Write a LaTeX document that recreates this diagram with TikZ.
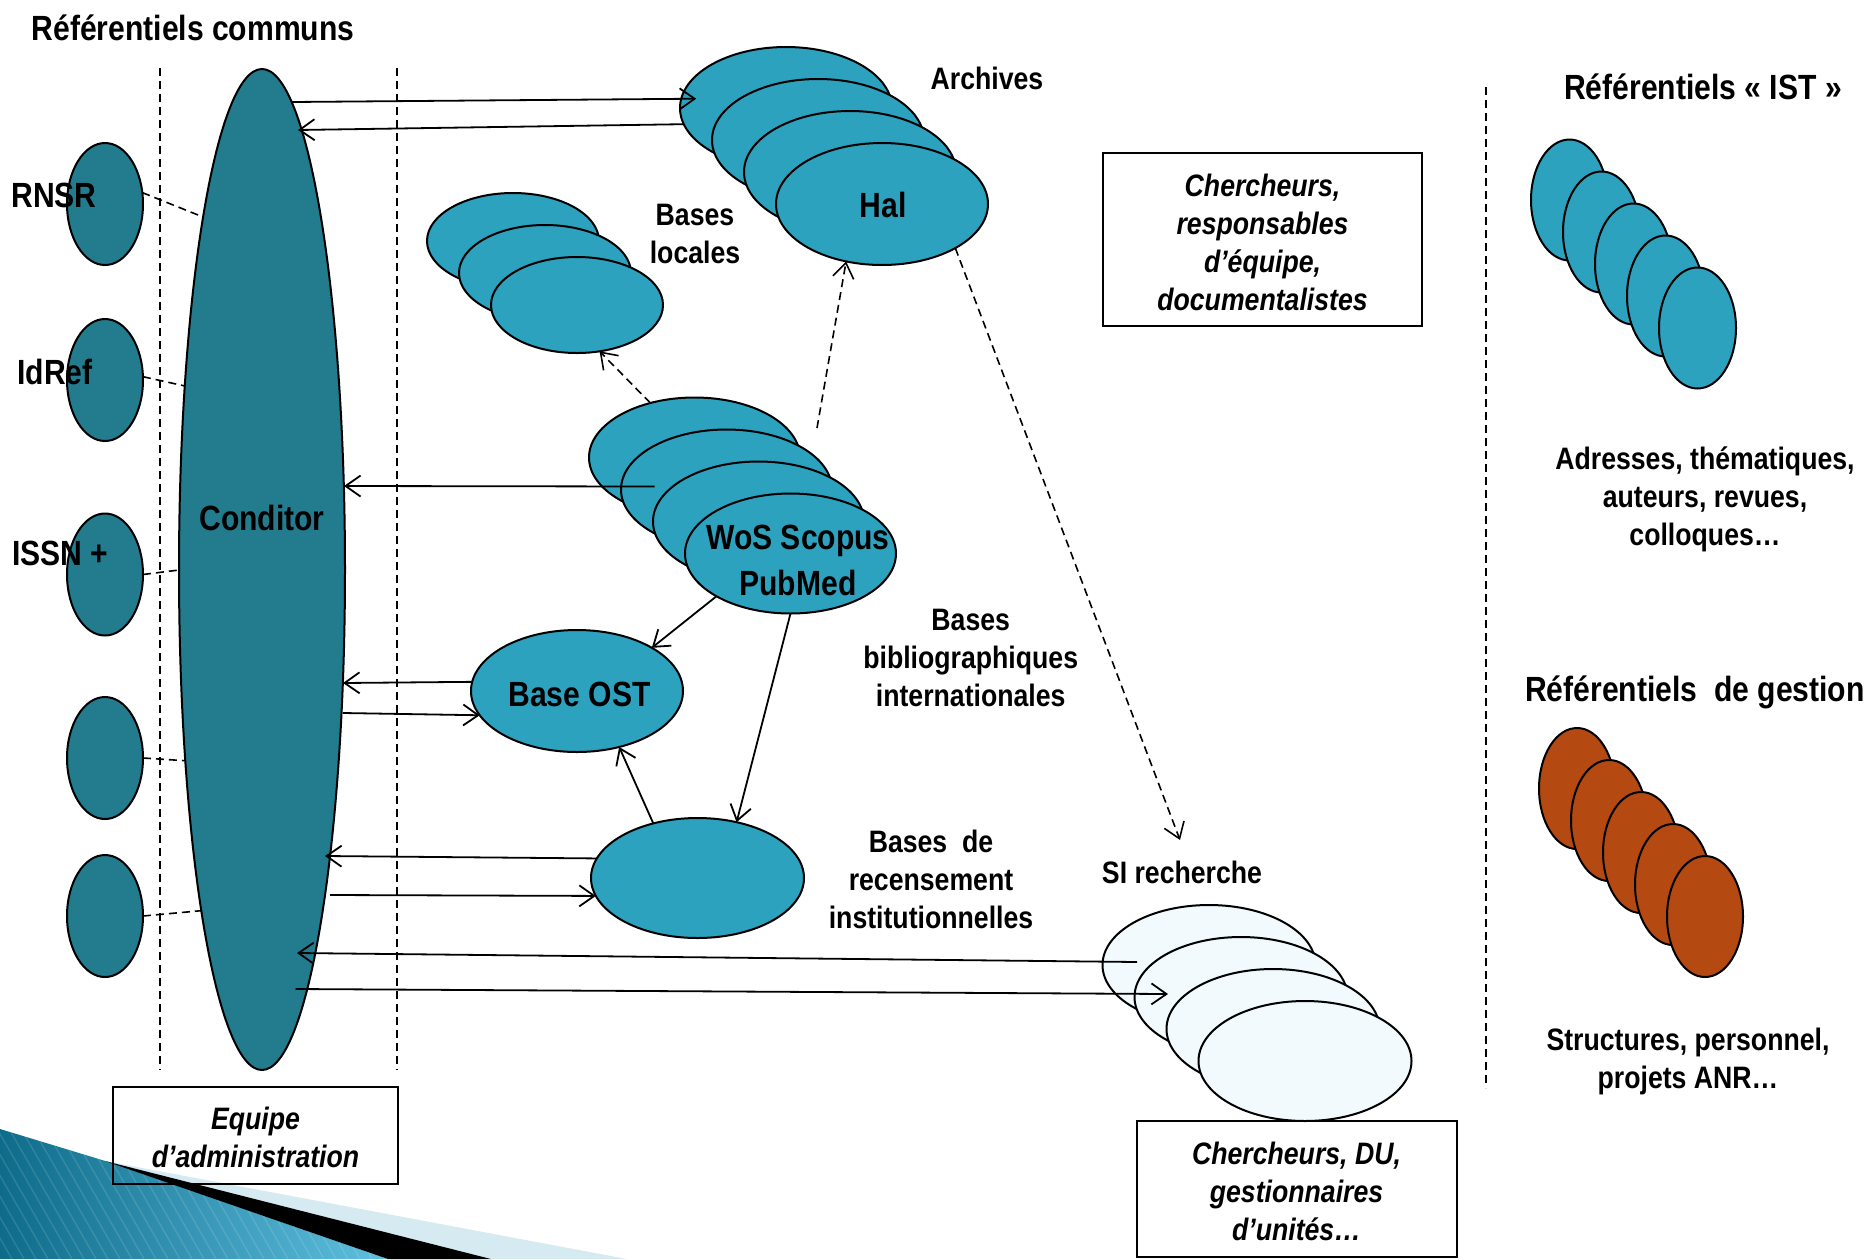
\documentclass[tikz,border=0pt]{standalone}
\usepackage{fontspec}
\setmainfont{Liberation Sans}[FakeStretch=0.86]
\usetikzlibrary{arrows.meta,shapes.geometric,calc}
\definecolor{condcol}{RGB}{35,123,142}
\definecolor{bluecol}{RGB}{45,162,191}
\definecolor{orangecol}{RGB}{180,74,18}
\definecolor{sicol}{RGB}{242,250,253}
\definecolor{decodark}{RGB}{14,108,138}
\definecolor{decolight}{RGB}{98,194,226}
\definecolor{decopale}{RGB}{214,234,242}
\newcommand\fbig{\fontsize{35pt}{46pt}\selectfont\bfseries}
\newcommand\fsmall{\fontsize{31pt}{38pt}\selectfont\bfseries}
\newcommand\topstrut{\rule{0pt}{38.6pt}}
\begin{document}
\begin{tikzpicture}[x=1pt,y=-1pt,
  every node/.style={inner sep=0pt,outer sep=0pt},
  oval/.style 2 args={ellipse,draw=black,line width=2pt,inner sep=0pt,minimum width=#1,minimum height=#2},
  bigt/.style={font=\fbig},
  smt/.style={font=\fsmall},
  boxn/.style={draw=black,line width=2pt,align=center,font=\fsmall\itshape},
  vdash/.style={line width=1.6pt,dash pattern=on 8pt off 5pt},
  dconn/.style={line width=1.6pt,dash pattern=on 8pt off 5pt},
  arr/.style={line width=1.8pt,-{Straight Barb[length=15pt,width=21pt,line width=1.8pt]}},
  darr/.style={line width=1.6pt,dash pattern=on 8pt off 5pt,-{Straight Barb[length=15pt,width=21pt,line width=1.6pt]}}]
\useasboundingbox (0,0) rectangle (1872,1259);

% bottom-left decoration
\begin{scope}
  \clip (0,1129) -- (112,1163) -- (388,1259) -- (0,1259) -- cycle;
  \shade[left color=decodark,right color=decolight] (0,1120) rectangle (400,1259);
  \foreach \k in {-200,-188,...,400}
    \draw[white,opacity=0.12,line width=1.4pt] (\k,1120) -- ({\k+80},1259);
\end{scope}
\fill[decopale] (105,1161) -- (627,1259) -- (491,1259) -- cycle;
\fill[black] (105,1161) -- (491,1259) -- (388,1259) -- cycle;

% separators
\draw[vdash] (160,68) -- (160,1070);
\draw[vdash] (397,68) -- (397,1070);
\draw[vdash] (1486,87) -- (1486,1088);

% Conditor and common referentials
\node[oval={166pt}{1001pt},fill=condcol] (cond) at (262,569.5) {};
\foreach \i/\y in {1/204,2/380,3/574.5,4/758,5/916}
  \node[oval={76pt}{122pt},fill=condcol] (r\i) at (105,\y) {};

% Archives stack
\foreach \i in {0,...,3}
  \node[oval={212pt}{122pt},fill=bluecol] (a\i) at ({786+32*\i},{108+32*\i}) {};
% Bases locales stack
\foreach \i in {0,...,2}
  \node[oval={172pt}{96pt},fill=bluecol] (l\i) at ({513+32*\i},{241+32*\i}) {};
% WoS stack
\foreach \i in {0,...,3}
  \node[oval={211pt}{120pt},fill=bluecol] (w\i) at ({694.5+32*\i},{457.5+32*\i}) {};
% Base OST
\node[oval={212pt}{122pt},fill=bluecol] (ost) at (577,691) {};
% Bases de recensement
\node[oval={213pt}{120pt},fill=bluecol] (rec) at (697.5,878) {};
% SI recherche stack
\foreach \i in {0,...,3}
  \node[oval={213pt}{120pt},fill=sicol] (s\i) at ({1209+32*\i},{965+32*\i}) {};
% IST stack
\foreach \i in {0,...,4}
  \node[oval={77pt}{121pt},fill=bluecol] (i\i) at ({1569.5+32*\i},{200+32*\i}) {};
% gestion stack
\foreach \i in {0,...,4}
  \node[oval={76pt}{121pt},fill=orangecol] (g\i) at ({1577+32*\i},{788.5+32*\i}) {};

% free ends
\coordinate (wtop) at (817,428);
\coordinate (sitip) at (1180,840);

% dashed links to Conditor
\draw[dconn] (r1.17) -- ($(cond.center)+(-59,-352.5)$);
\draw[dconn] (r2.5) -- ($(cond.center)+(-77,-183.5)$);
\draw[dconn] (r3.east) -- ($(cond.center)+(-83,0.5)$);
\draw[dconn] (r4.east) -- ($(cond.center)+(-77,191.2)$);
\draw[dconn] (r5.east) -- ($(cond.center)+(-61,341.2)$);

% arrows
\draw[arr,shorten >=-15pt] ($(cond.center)+(30,-467.5)$) -- (a0.175.1);
\draw[arr] (a0.189.5) -- ($(cond.center)+(36,-439.5)$);
\draw[arr] ([xshift=-72pt,yshift=3pt]w1.center) -- ($(cond.center)+(82,-83.5)$);
\draw[arr] (ost.175.6) -- ($(cond.center)+(81,113.5)$);
\draw[arr] ($(cond.center)+(81,143.5)$) -- (ost.194.5);
\draw[arr] (rec.169.3) -- ($(cond.center)+(63,286.5)$);
\draw[arr] ($(cond.center)+(68,325.5)$) -- (rec.190.7);
\draw[arr] ([xshift=-72pt,yshift=3pt]s0.center) -- ($(cond.center)+(35,383.5)$);
\draw[arr] ($(cond.center)+(33.5,419.5)$) -- ([xshift=-73pt,yshift=3pt]s1.center);
\draw[arr] (w3.210.5) -- (ost.30.4);
\draw[arr] (w3.south) -- (rec.55.6);
\draw[arr] (rec.129) -- (ost.307.8);
\draw[darr] (w0.129.6) -- (l2.296.5);
\draw[darr] (wtop) -- (a3.238.4);
\draw[darr] (a3.329.3) -- (sitip);

% texts
\node[bigt,anchor=base] (t1) at (193,40) {Référentiels communs};
\node[bigt,anchor=base] (lr1) at (54,207) {RNSR};
\node[bigt,anchor=base] (lr2) at (55,384) {IdRef};
\node[bigt,anchor=base] (lr3) at (60.5,565) {ISSN +};
\node[bigt,anchor=base] (lcond) at (262,530) {Conditor};
\node[smt,anchor=base] (larch) at (987,89) {Archives};
\node[bigt,anchor=base] (lhal) at (883,217) {Hal};
\node[smt,anchor=north,align=center] (lloc) at (695,198.4) {\strut Bases\\\strut locales};
\node[bigt,anchor=north,align=center] (lwos) at (798,517.4) {\strut WoS Scopus\\\strut PubMed};
\node[bigt,anchor=base] (lost) at (579.5,706.7) {Base OST};
\node[smt,anchor=north,align=center] (lbib) at (970.7,603.4) {\strut Bases\\\strut bibliographiques\\\strut internationales};
\node[smt,anchor=north,align=center] (lrec) at (931,825.4) {\strut Bases~ de\\\strut recensement\\\strut institutionnelles};
\node[smt,anchor=base] (lsi) at (1182,883) {SI recherche};
\node[bigt,anchor=base] (list) at (1703,99) {Référentiels « IST »};
\node[smt,anchor=north,align=center] (ladr) at (1705,442.4) {\strut Adresses, thématiques,\\\strut auteurs, revues,\\\strut colloques…};
\node[bigt,anchor=base] (lges) at (1695,701) {Référentiels~ de gestion};
\node[smt,anchor=north,align=center] (lstr) at (1688,1023.4) {\strut Structures, personnel,\\\strut projets ANR…};

% boxes
\node[boxn,minimum width=319pt,minimum height=173pt] (bx1) at (1262.5,239.5)
  {\topstrut Chercheurs,\\\strut responsables\\\strut d’équipe,\\\strut documentalistes};
\node[boxn,minimum width=285pt,minimum height=97pt] (bx2) at (255.5,1135)
  {\topstrut Equipe\\\strut d’administration};
\node[boxn,minimum width=320pt,minimum height=136pt] (bx3) at (1296.5,1189)
  {\topstrut Chercheurs, DU,\\\strut gestionnaires\\\strut d’unités…};
\end{tikzpicture}
\end{document}
